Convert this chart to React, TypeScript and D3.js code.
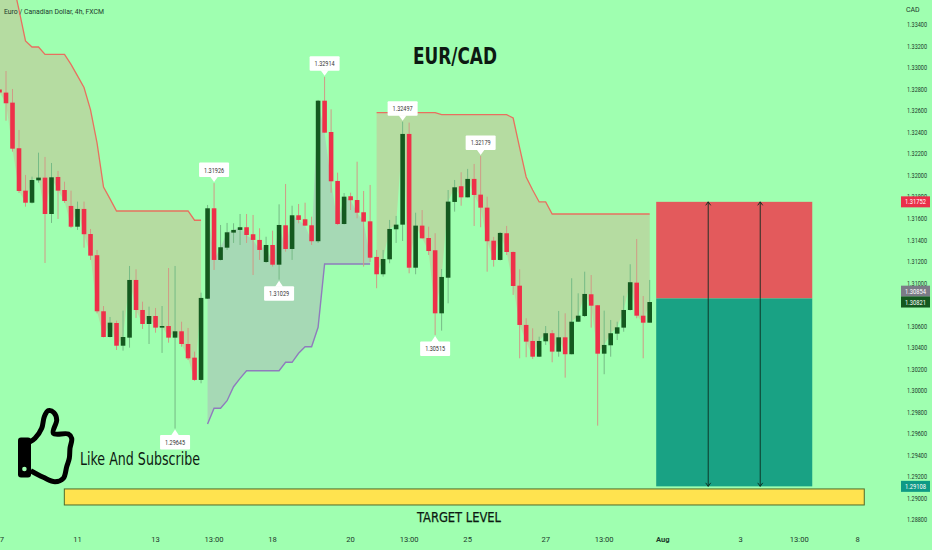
import React from "react";
import * as d3 from "d3";

// Prices are stored in 1e-5 CAD units. First candle is bar -1.
const firstBar = -1;
const opens = [132796,132767,132674,132250,131856,131744,131952,131977,131639,131983,131862,131714,131521,131686,131453,131256,130735,130496,130626,130415,130490,131026,130747,130617,130691,130583,130598,130490,130549,130431,130304,130097,130852,131692,131212,131326,131466,131491,131516,131451,131398,131193,131351,131168,131534,131314,131627,131590,131534,131386,132692,132401,131946,131546,131804,131769,131655,131571,131240,131079,131218,131497,131540,132383,131140,131531,131416,131302,130716,131047,131751,131897,131794,131965,131819,131698,131391,131212,131460,131286,130973,130608,130459,130313,130456,130531,130360,130493,130336,130638,130691,130893,130791,130341,130419,130527,130583,130747,131001,130694,130629];
const highs = [132801,132968,132801,132420,132002,131986,132209,132169,132113,132039,131939,131856,131754,131754,131500,131305,130784,130682,130648,130741,131156,131125,130824,130778,130766,130784,131137,131156,130638,130580,130360,130908,131723,131926,131537,131556,131553,131639,131639,131630,131506,131428,131484,131729,131918,131716,131732,131744,131614,132699,132914,132612,132023,131834,131837,132125,131853,131909,131305,131305,131584,131621,132497,132488,131651,131676,131521,131460,131128,131862,131955,132027,132058,132104,132179,131800,131426,131472,131528,131291,131125,130670,130577,130499,130598,130561,130738,130716,131042,130902,131103,131072,130794,130741,130654,130638,130880,131172,131407,130877,131026];
const lows = [132764,132506,132218,131834,131707,131737,131930,131184,131556,131593,131742,131509,131491,131326,131212,130716,130492,130492,130375,130369,130397,130673,130571,130431,130536,130348,130443,129645,130406,130282,130087,130066,130849,131119,131207,131305,131370,131351,131370,131072,131212,131184,131150,131029,131289,131212,131553,131528,131351,131370,132392,131837,131537,131542,131676,131599,131150,131193,130949,131057,131181,131370,131388,131088,131079,131412,131258,130515,130555,130809,131661,131716,131793,131528,131516,131103,131150,131207,131258,130887,130298,130308,130292,130310,130422,130261,130313,130118,130334,130636,130682,130583,129672,130150,130313,130468,130545,130742,130670,130298,130629];
const closes = [132768,132668,132246,131853,131744,131955,131977,131639,131980,131856,131760,131521,131686,131451,131252,130735,130496,130629,130415,130496,131026,130747,130617,130691,130583,130598,130490,130549,130431,130298,130097,130859,131692,131212,131330,131469,131491,131516,131444,131398,131305,131351,131168,131537,131314,131627,131584,131531,131386,132692,132395,131943,131546,131800,131767,131651,131568,131233,131079,131221,131500,131540,132383,131140,131531,131413,131295,130716,131054,131754,131887,131794,131965,131816,131698,131386,131212,131463,131286,130970,130608,130453,130313,130459,130531,130360,130493,130336,130638,130694,130896,130787,130341,130422,130531,130586,130747,131005,130694,130629,130821];

const cloudAStart = -1;
const cloudA = [134139,134093,133814,133535,133247,133191,133191,133123,133123,133123,133123,133029,132922,132815,132606,132299,131890,131779,131667,131667,131667,131667,131667,131667,131667,131667,131667,131667,131667,131667,131581,131581];
const cloudBStart = 31;
const cloudB = [129688,129834,129834,129904,130034,130112,130183,130183,130183,130183,130183,130183,130261,130261,130345,130406,130406,130586,131175,131175,131175,131175,131175,131175,131175,131175];
const cloudCStart = 57;
const cloudC = [132581,132581,132581,132581,132581,132581,132581,132581,132581,132581,132562,132562,132562,132562,132562,132562,132562,132562,132562,132562,132562,132531,132253,131983,131862,131751,131751,131639,131639,131639,131639,131639,131639,131639,131639,131639,131639,131639,131639,131639,131639,131639,131639];

const priceTicks = [133400,133200,133000,132800,132600,132400,132200,132000,131800,131600,131400,131200,131000,130600,130400,130200,130000,129800,129600,129400,129200,129000,128800];
const timeTickBars = [-0.65,11,23,32,41,53,62,71,83,92,101,113,122,131];
const timeTickLabels = ["7","11","13","13:00","18","20","13:00","25","27","13:00","Aug","3","13:00","8"];
const peakBars = [26,32,42,49,61,66,73];
const peakPrices = [129645,131926,131029,132914,132497,130515,132179];
const peakIsLow = [true,false,true,false,false,true,false];

const entryPrice = 130854, stopPrice = 131752, targetPrice = 129108, lastPrice = 130821;
const boxBars = [100,124];
const arrowBars = [108,116];
const targetBandBars = [8.97,132];
const targetBandPrices = [129084,128935];

const BG = "#9fffb0";
const AXIS_FONT = "Roboto, 'Liberation Sans', sans-serif";
const TITLE_FONT = "'DejaVu Sans Condensed', 'DejaVu Sans', sans-serif";

const x = d3.scaleLinear().domain([0, 99]).range([6, 649.7]);
const y = d3.scaleLinear().domain([133400, 128800]).range([24.5, 519.5]);
const fmt = (p: number) => (p / 1e5).toFixed(5);
const closeAt = (bar: number) => closes[bar - firstBar];

function cloudPaths(values: number[], start: number) {
  const rows = values.map((v, i) => ({ bar: start + i, v }));
  const area = d3.area<{ bar: number; v: number }>()
    .x((d) => x(d.bar))
    .y0((d) => y(d.v))
    .y1((d) => y(closeAt(d.bar)));
  const line = d3.line<{ bar: number; v: number }>()
    .x((d) => x(d.bar))
    .y((d) => y(d.v));
  return { area: area(rows) ?? "", line: line(rows) ?? "" };
}

const thumbPts: [number, number][] = [[30,441.7],[35,438.3],[41.7,428.3],[44.3,416.7],[48.3,410.7],[54,412.7],[56.7,420],[53.3,433.3],[68.3,434],[71.7,438.3],[70,448.3],[69.3,458.3],[66.7,466.7],[63.3,478.3],[55,481.7],[43.3,477.3],[30.7,470.7]];

function Tag({ price, cy, fill, color = "#fff" }: { price: number; cy: number; fill: string; color?: string }) {
  return (
    <g>
      <rect x={901} y={cy - 5.5} width={29} height={11} fill={fill} />
      <text x={905} y={cy + 2.6} fontSize={6.8} fill={color} textLength={21} lengthAdjust="spacingAndGlyphs" fontFamily={AXIS_FONT}>{fmt(price)}</text>
    </g>
  );
}

export default function App() {
  const A = cloudPaths(cloudA, cloudAStart);
  const B = cloudPaths(cloudB, cloudBStart);
  const C = cloudPaths(cloudC, cloudCStart);
  const bodyW = 4.6;
  const thumb = d3.line().curve(d3.curveCatmullRom)(thumbPts) ?? "";
  return (
    <svg width={932} height={550} style={{ position: "absolute", left: 0, top: 0, display: "block" }}>
      <rect width={932} height={550} fill={BG} />
      <path d={A.area} fill="#b5dca1" />
      <path d={B.area} fill="#a6d9b5" />
      <path d={C.area} fill="#b5dca1" />
      <path d={A.line} fill="none" stroke="#e8705f" strokeWidth={1.3} />
      <path d={B.line} fill="none" stroke="#8f7cbc" strokeWidth={1.4} />
      <path d={C.line} fill="none" stroke="#e8705f" strokeWidth={1.3} />

      {/* candles */}
      {opens.map((o, i) => {
        const bar = firstBar + i;
        const up = closes[i] >= o;
        const cx = x(bar);
        const top = y(Math.max(o, closes[i]));
        const bot = y(Math.min(o, closes[i]));
        return (
          <g key={i}>
            <line x1={cx} x2={cx} y1={y(highs[i])} y2={y(lows[i])} stroke={up ? "#76bb86" : "#d09a86"} strokeWidth={1} />
            <rect x={cx - bodyW / 2} y={top} width={bodyW} height={Math.max(bot - top, 1)} fill={up ? "#14591f" : "#ee3049"} />
          </g>
        );
      })}

      {/* peak labels */}
      {peakBars.map((b, i) => {
        const cx = x(b);
        const py = y(peakPrices[i]);
        const low = peakIsLow[i];
        const rTop = low ? py + 6.5 : py - 20.5;
        const tipBase = low ? rTop + 0.5 : rTop + 14;
        return (
          <g key={b}>
            <rect x={cx - 15} y={rTop} width={30} height={14.5} rx={1} fill="#fff" />
            <path d={`M${cx - 4},${tipBase} L${cx},${py + (low ? 1 : -1)} L${cx + 4},${tipBase} Z`} fill="#fff" />
            <text x={cx} y={rTop + 10} textAnchor="middle" fontSize={7} fill="#333" textLength={20} lengthAdjust="spacingAndGlyphs" fontFamily={AXIS_FONT}>{fmt(peakPrices[i])}</text>
          </g>
        );
      })}

      {/* position boxes */}
      <rect x={x(boxBars[0])} y={y(stopPrice)} width={x(boxBars[1]) - x(boxBars[0])} height={y(entryPrice) - y(stopPrice)} fill="#e35a5c" />
      <rect x={x(boxBars[0])} y={y(entryPrice)} width={x(boxBars[1]) - x(boxBars[0])} height={y(targetPrice) - y(entryPrice)} fill="#19a284" />
      {arrowBars.map((b) => {
        const ax = x(b);
        const t = y(stopPrice);
        const m = y(targetPrice);
        return (
          <g key={b} stroke="#0b2a1e" strokeWidth={0.9} fill="none">
            <line x1={ax} x2={ax} y1={t} y2={m} />
            <path d={`M${ax - 2.5},${t + 3.5} L${ax},${t} L${ax + 2.5},${t + 3.5}`} />
            <path d={`M${ax - 2.5},${m - 3.5} L${ax},${m} L${ax + 2.5},${m - 3.5}`} />
          </g>
        );
      })}

      {/* target band */}
      <rect x={x(targetBandBars[0])} y={y(targetBandPrices[0])} width={x(targetBandBars[1]) - x(targetBandBars[0])} height={y(targetBandPrices[1]) - y(targetBandPrices[0])} fill="#ffe34f" stroke="#4f6a2a" strokeWidth={1} />

      {/* annotations */}
      <text x={4} y={14} fontSize={7.8} fill="#1d3a2c" textLength={100} lengthAdjust="spacingAndGlyphs" fontFamily={AXIS_FONT}>Euro / Canadian Dollar, 4h, FXCM</text>
      <text x={413} y={63.5} fontSize={23.5} fontWeight={700} fill="#0d1a12" textLength={84} lengthAdjust="spacingAndGlyphs" fontFamily={TITLE_FONT}>EUR/CAD</text>
      <text x={417} y={521.5} fontSize={14} fontWeight={400} stroke="#0d1a12" strokeWidth={0.25} fill="#0d1a12" textLength={84} lengthAdjust="spacingAndGlyphs" fontFamily={TITLE_FONT}>TARGET LEVEL</text>
      <text x={80} y={465} fontSize={18} fill="#0d1a12" textLength={120} lengthAdjust="spacingAndGlyphs" fontFamily={TITLE_FONT}>Like And Subscribe</text>

      {/* thumb icon */}
      <path d={thumb} fill="none" stroke="#000" strokeWidth={5} strokeLinejoin="round" />
      <rect x={18} y={437.5} width={13} height={40} rx={3} fill="#000" />
      <circle cx={24.4} cy={469} r={2.3} fill={BG} />

      {/* price axis */}
      <text x={906} y={11.5} fontSize={7} fill="#1d3a2c" fontFamily={AXIS_FONT}>CAD</text>
      {priceTicks.map((p) => (
        <text key={p} x={907} y={y(p) + 2.8} fontSize={6.8} fill="#1d3a2c" textLength={20} lengthAdjust="spacingAndGlyphs" fontFamily={AXIS_FONT}>{fmt(p)}</text>
      ))}
      <Tag price={stopPrice} cy={y(stopPrice)} fill="#ea2f4a" />
      <Tag price={entryPrice} cy={y(entryPrice) - 7.3} fill="#7b7b87" />
      <Tag price={lastPrice} cy={y(lastPrice)} fill="#14591f" />
      <Tag price={targetPrice} cy={y(targetPrice)} fill="#0e9a85" />

      {/* time axis */}
      {timeTickBars.map((b, i) => (
        <text key={i} x={x(b)} y={541.5} textAnchor="middle" fontSize={7.6} fontWeight={timeTickLabels[i] === "Aug" ? 700 : 400} fill="#1d3a2c" fontFamily={AXIS_FONT}>{timeTickLabels[i]}</text>
      ))}
    </svg>
  );
}
